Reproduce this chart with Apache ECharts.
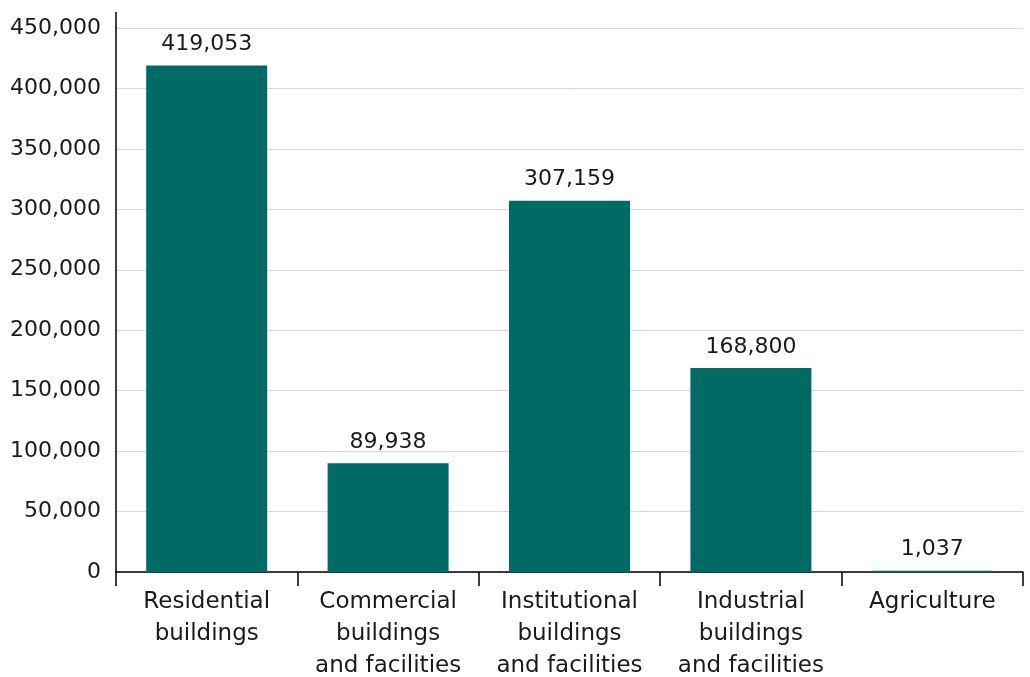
<!DOCTYPE html>
<html><head><meta charset="utf-8">
<script src="https://cdn.jsdelivr.net/npm/echarts@6/dist/echarts.min.js"></script>
<style>html,body{margin:0;padding:0;background:#fff}#c{width:1030px;height:677px}</style>
</head><body><div id="c"></div>
<script>
const categories = ['Residential\nbuildings', 'Commercial\nbuildings\nand facilities', 'Institutional\nbuildings\nand facilities', 'Industrial\nbuildings\nand facilities', 'Agriculture'];
const values = [419053, 89938, 307159, 168800, 1037];
const yMin = 0, yMax = 450000, yStep = 50000;
const fmt = v => v.toLocaleString('en-US');
const font = '"DejaVu Sans", sans-serif';
const chart = echarts.init(document.getElementById('c'));
chart.setOption({
  animation: false,
  grid: {left: 116, right: 7, top: 28, bottom: 105, containLabel: false, outerBoundsMode: 'none'},
  graphic: [{type: 'line', shape: {x1: 116, y1: 12, x2: 116, y2: 28}, style: {stroke: '#000', lineWidth: 1.5}}],
  xAxis: {
    type: 'category', data: categories,
    axisLine: {lineStyle: {color: '#000', width: 1.5}},
    axisTick: {show: true, length: 14, lineStyle: {color: '#000', width: 1.5}},
    axisLabel: {color: '#1a1a1a', fontSize: 23, fontFamily: font, lineHeight: 32, margin: 14, interval: 0}
  },
  yAxis: {
    type: 'value', min: yMin, max: yMax, interval: yStep,
    axisLine: {show: true, lineStyle: {color: '#000', width: 1.5}},
    axisTick: {show: false},
    splitLine: {lineStyle: {color: '#d9d9d9', width: 1}},
    axisLabel: {color: '#1a1a1a', fontSize: 22, fontFamily: font, margin: 15, formatter: fmt}
  },
  series: [{
    type: 'bar', data: values, barWidth: '66.7%',
    itemStyle: {color: '#006b65'},
    label: {show: true, position: 'top', distance: 10, color: '#1a1a1a', fontSize: 22, fontFamily: font, formatter: p => fmt(p.value)}
  }]
});
</script></body></html>
